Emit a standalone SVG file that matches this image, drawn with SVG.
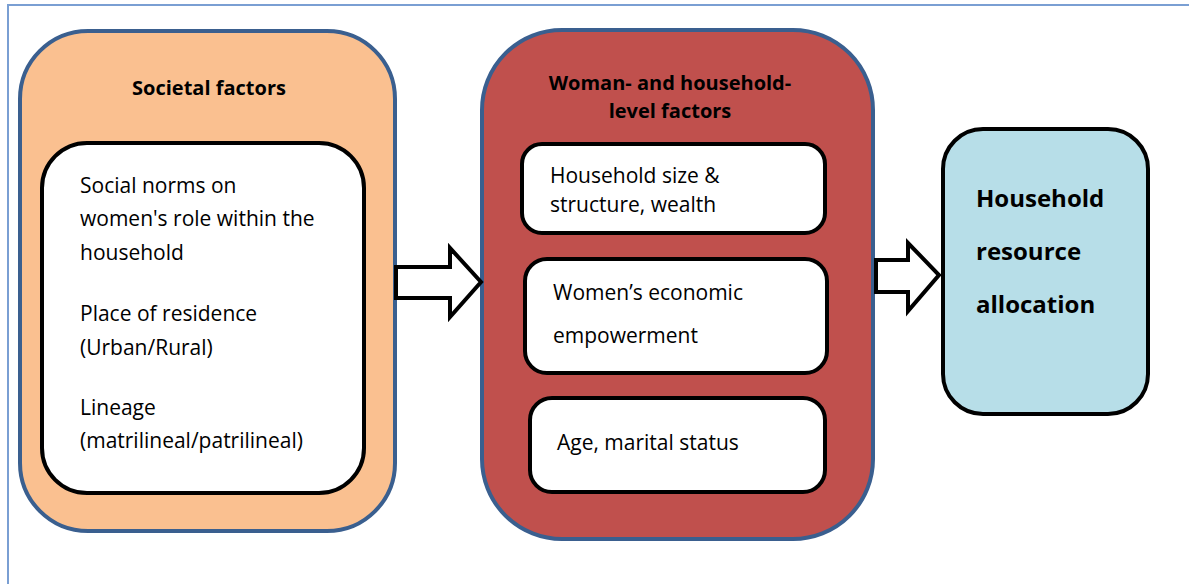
<svg xmlns="http://www.w3.org/2000/svg" width="1189" height="584" viewBox="0 0 1189 584">
  <style>
    .frame { fill: none; stroke: #7a9fd3; stroke-width: 2; }
    .outer { stroke: #3a5f8f; stroke-width: 4; }
    .inner { fill: #ffffff; stroke: #000000; stroke-width: 4; }
    .arrow { fill: #ffffff; stroke: #000000; stroke-width: 4; stroke-linejoin: miter; }
    text { font-family: "Open Sans", "Liberation Sans", sans-serif; fill: #000000; }
    .title { font-size: 20px; font-weight: bold; text-anchor: middle; }
    .body { font-size: 21px; }
    .result { font-size: 24px; font-weight: bold; }
  </style>

  <rect class="frame" x="8" y="5" width="1200" height="600"/>

  <!-- Societal factors -->
  <g id="societal">
    <rect class="outer" x="20" y="31" width="375" height="500" rx="68" ry="68" fill="#fac090"/>
    <text class="title" x="209" y="95">Societal factors</text>
    <rect class="inner" x="42" y="143" width="322" height="350" rx="45" ry="45"/>
    <text class="body" x="80" y="193">Social norms on</text>
    <text class="body" x="80" y="226">women's role within the</text>
    <text class="body" x="80" y="260">household</text>
    <text class="body" x="80" y="321">Place of residence</text>
    <text class="body" x="80" y="355">(Urban/Rural)</text>
    <text class="body" x="80" y="415">Lineage</text>
    <text class="body" x="80" y="448">(matrilineal/patrilineal)</text>
  </g>

  <!-- Woman- and household-level factors -->
  <g id="household-level">
    <rect class="outer" x="482" y="30" width="391" height="509" rx="80" ry="80" fill="#c0504d"/>
    <text class="title" x="670" y="90">Woman- and household-</text>
    <text class="title" x="670" y="118">level factors</text>
  </g>
  <g id="size-structure">
    <rect class="inner" x="522" y="144" width="303" height="89" rx="20" ry="20"/>
    <text class="body" x="550" y="183">Household size &amp;</text>
    <text class="body" x="550" y="212">structure, wealth</text>
  </g>
  <g id="empowerment">
    <rect class="inner" x="525" y="259" width="302" height="114" rx="22" ry="22"/>
    <text class="body" x="553" y="300">Women’s economic</text>
    <text class="body" x="553" y="343">empowerment</text>
  </g>
  <g id="age-marital">
    <rect class="inner" x="530" y="398" width="295" height="94" rx="22" ry="22"/>
    <text class="body" x="557" y="450">Age, marital status</text>
  </g>

  <!-- Household resource allocation -->
  <g id="allocation">
    <rect class="inner" x="943" y="129" width="205" height="285" rx="40" ry="40" style="fill:#b7dee8"/>
    <text class="result" x="976" y="207">Household</text>
    <text class="result" x="976" y="260">resource</text>
    <text class="result" x="976" y="313">allocation</text>
  </g>

  <!-- Block arrows between stages -->
  <g id="connectors">
    <polygon class="arrow" points="396,267 450,267 450,248 481,282 450,317 450,298 396,298"/>
    <polygon class="arrow" points="876,260 908,260 908,243 939,275 908,311 908,292 876,292"/>
  </g>
</svg>
